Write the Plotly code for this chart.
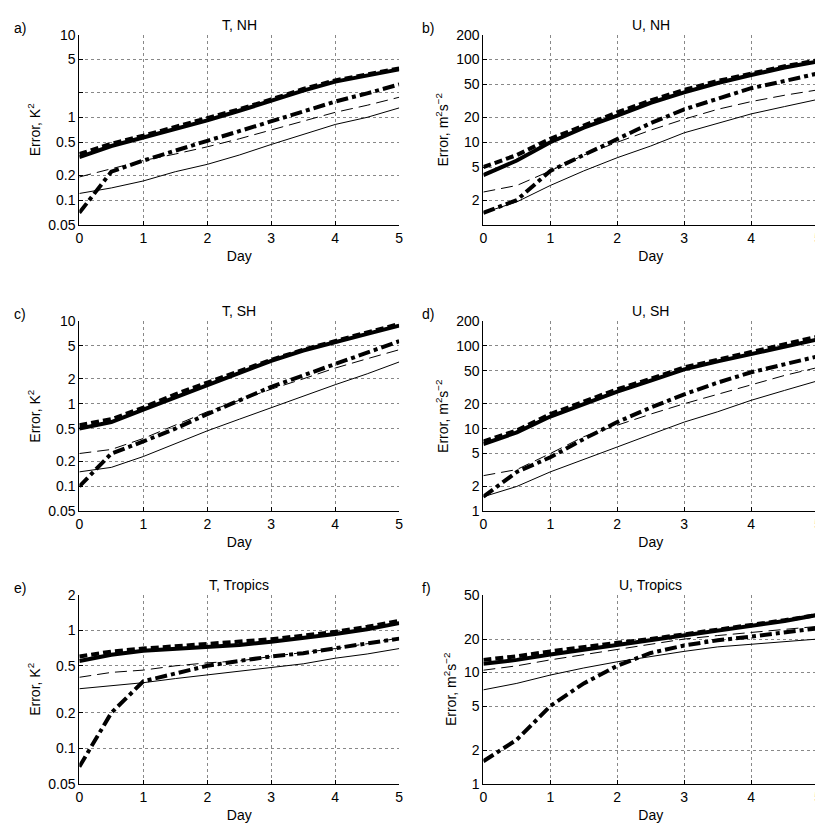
import math
import plotly.graph_objects as go

days = [0, 0.5, 1, 1.5, 2, 2.5, 3, 3.5, 4, 4.5, 5]

# panel a) T, NH
t_nh_thick_solid = [0.33, 0.45, 0.57, 0.72, 0.92, 1.2, 1.6, 2.1, 2.7, 3.2, 3.8]
t_nh_thick_dash = [0.36, 0.48, 0.6, 0.76, 0.98, 1.25, 1.65, 2.2, 2.8, 3.3, 3.9]
t_nh_thick_dashdot = [0.07, 0.22, 0.3, 0.4, 0.52, 0.68, 0.9, 1.2, 1.55, 1.95, 2.5]
t_nh_thin_dash = [0.19, 0.24, 0.3, 0.36, 0.44, 0.55, 0.7, 0.9, 1.15, 1.4, 1.75]
t_nh_thin_solid = [0.12, 0.14, 0.17, 0.22, 0.27, 0.35, 0.47, 0.62, 0.82, 1.0, 1.3]

# panel b) U, NH
u_nh_thick_solid = [4, 6, 10, 15, 21, 30, 40, 52, 65, 80, 95]
u_nh_thick_dash = [5, 7, 11, 16, 23, 32, 43, 55, 68, 83, 98]
u_nh_thick_dashdot = [1.4, 2, 4.5, 7, 11, 17, 25, 34, 45, 55, 68]
u_nh_thin_dash = [2.5, 3, 4.5, 7, 10, 14, 19, 25, 31, 37, 43]
u_nh_thin_solid = [1.4, 1.9, 3, 4.5, 6.5, 9, 13, 17, 22, 27, 33]

# panel c) T, SH
t_sh_thick_solid = [0.5, 0.6, 0.85, 1.2, 1.7, 2.4, 3.3, 4.4, 5.6, 7, 8.8]
t_sh_thick_dash = [0.55, 0.65, 0.9, 1.3, 1.8, 2.5, 3.4, 4.5, 5.8, 7.3, 9.2]
t_sh_thick_dashdot = [0.1, 0.25, 0.35, 0.5, 0.75, 1.1, 1.6, 2.2, 3.0, 4.1, 5.7]
t_sh_thin_dash = [0.25, 0.28, 0.38, 0.55, 0.8, 1.1, 1.5, 2, 2.7, 3.5, 4.5]
t_sh_thin_solid = [0.15, 0.17, 0.23, 0.33, 0.47, 0.65, 0.9, 1.25, 1.7, 2.3, 3.2]

# panel d) U, SH
u_sh_thick_solid = [6.5, 9, 14, 20, 28, 38, 52, 65, 80, 100, 120]
u_sh_thick_dash = [7, 9.5, 15, 21, 30, 40, 55, 68, 85, 105, 130]
u_sh_thick_dashdot = [1.5, 3, 4.5, 7.5, 12, 18, 26, 36, 48, 60, 75]
u_sh_thin_dash = [2.7, 3.2, 5, 8, 11, 15, 20, 26, 34, 44, 55]
u_sh_thin_solid = [1.5, 2, 3, 4.2, 6, 8.5, 12, 16, 22, 29, 38]

# panel e) T, Tropics
t_tr_thick_solid = [0.55, 0.62, 0.67, 0.7, 0.72, 0.75, 0.8, 0.86, 0.93, 1.02, 1.15]
t_tr_thick_dash = [0.6, 0.66, 0.7, 0.73, 0.76, 0.8, 0.84, 0.9, 0.97, 1.07, 1.2]
t_tr_thick_dashdot = [0.07, 0.2, 0.37, 0.43, 0.5, 0.55, 0.6, 0.64, 0.7, 0.77, 0.85]
t_tr_thin_dash = [0.4, 0.44, 0.46, 0.5, 0.53, 0.55, 0.6, 0.65, 0.7, 0.77, 0.86]
t_tr_thin_solid = [0.32, 0.34, 0.36, 0.39, 0.42, 0.45, 0.48, 0.52, 0.58, 0.63, 0.7]

# panel f) U, Tropics
u_tr_thick_solid = [12, 13, 14.5, 16, 17.5, 19.5, 21.5, 23.5, 26, 29, 33]
u_tr_thick_dash = [13, 14, 15.5, 17, 18.5, 20, 22, 24, 26.5, 29.5, 33]
u_tr_thick_dashdot = [1.6, 2.5, 5, 8, 11.5, 15, 17.5, 19.5, 21, 23, 25]
u_tr_thin_dash = [10.5, 11.5, 13, 14.5, 16, 18, 20, 21.5, 23, 24.5, 26]
u_tr_thin_solid = [7, 8, 9.5, 11, 12.5, 14, 15.5, 17, 18, 19, 20]

t_ticks = [0.05, 0.1, 0.2, 0.5, 1, 2, 5, 10]
u_ticks = [1, 2, 5, 10, 20, 50, 100, 200]

T_LABEL = 'Error, K<sup>2</sup>'
U_LABEL = 'Error, m<sup>2</sup>s<sup>−2</sup>'

panels = [
    ('a)', 'T, NH', T_LABEL, [0.05, 10], t_ticks, ['2'],
     [t_nh_thick_solid, t_nh_thick_dash, t_nh_thick_dashdot, t_nh_thin_dash, t_nh_thin_solid]),
    ('b)', 'U, NH', U_LABEL, [1, 200], u_ticks, ['1'],
     [u_nh_thick_solid, u_nh_thick_dash, u_nh_thick_dashdot, u_nh_thin_dash, u_nh_thin_solid]),
    ('c)', 'T, SH', T_LABEL, [0.05, 10], t_ticks, [],
     [t_sh_thick_solid, t_sh_thick_dash, t_sh_thick_dashdot, t_sh_thin_dash, t_sh_thin_solid]),
    ('d)', 'U, SH', U_LABEL, [1, 200], u_ticks, [],
     [u_sh_thick_solid, u_sh_thick_dash, u_sh_thick_dashdot, u_sh_thin_dash, u_sh_thin_solid]),
    ('e)', 'T, Tropics', T_LABEL, [0.05, 2], [0.05, 0.1, 0.2, 0.5, 1, 2], [],
     [t_tr_thick_solid, t_tr_thick_dash, t_tr_thick_dashdot, t_tr_thin_dash, t_tr_thin_solid]),
    ('f)', 'U, Tropics', U_LABEL, [1, 50], [1, 2, 5, 10, 20, 50], [],
     [u_tr_thick_solid, u_tr_thick_dash, u_tr_thick_dashdot, u_tr_thin_dash, u_tr_thin_solid]),
]

styles = [
    dict(width=4, dash='solid'),
    dict(width=4, dash='8px,4px'),
    dict(width=4, dash='dashdot'),
    dict(width=1, dash='12px,6px'),
    dict(width=1, dash='solid'),
]

W, H = 823, 835
x_doms = [(68, 391), (476, 814)]
y_doms = [(19, 213), (311, 505), (590, 783)]

FONT = 'Liberation Sans, Arial, sans-serif'

fig = go.Figure()
for i, (letter, title, ylabel, yr, ticks, hide, series) in enumerate(panels):
    row, col = divmod(i, 2)
    n = '' if i == 0 else str(i + 1)
    x0, x1 = x_doms[col]
    y0, y1 = y_doms[row]
    for vals, st in zip(series, styles):
        fig.add_trace(go.Scatter(x=days, y=vals, mode='lines', xaxis='x' + n, yaxis='y' + n,
                                 line=dict(color='black', **st), showlegend=False))
    common = dict(showline=True, linecolor='black', linewidth=1, ticks='inside', ticklen=4,
                  tickcolor='black', showgrid=True, gridcolor='#888', griddash='dot', gridwidth=1,
                  zeroline=False, tickfont=dict(size=14, color='black'), mirror=False)
    fig.layout['xaxis' + n] = dict(domain=[x0 / W, x1 / W], anchor='y' + n, range=[0, 5],
                                   tickvals=[0, 1, 2, 3, 4, 5],
                                   title=dict(text='Day', standoff=6, font=dict(size=14)), **common)
    fig.layout['yaxis' + n] = dict(domain=[1 - y1 / H, 1 - y0 / H], anchor='x' + n, type='log',
                                   range=[math.log10(yr[0]), math.log10(yr[1])],
                                   tickvals=ticks,
                                   ticktext=['' if f'{t:g}' in hide else f'{t:g}' for t in ticks],
                                   title=dict(text=ylabel, standoff=4, font=dict(size=14)), **common)
    fig.add_annotation(text=title, x=(x0 + x1) / 2 / W, y=1 - y0 / H, xref='paper', yref='paper',
                       xanchor='center', yanchor='bottom', showarrow=False, font=dict(size=14))
    fig.add_annotation(text=letter, x=(x0 - 68 if col == 0 else x0 - 64) / W, y=1 - (y0 - 17) / H,
                       xref='paper', yref='paper', xanchor='left', yanchor='top', showarrow=False,
                       font=dict(size=14))

fig.update_layout(width=W, height=H, margin=dict(l=0, r=0, t=0, b=0), plot_bgcolor='white',
                  paper_bgcolor='white', font=dict(family=FONT, color='black'))
fig.write_html('out.html')
